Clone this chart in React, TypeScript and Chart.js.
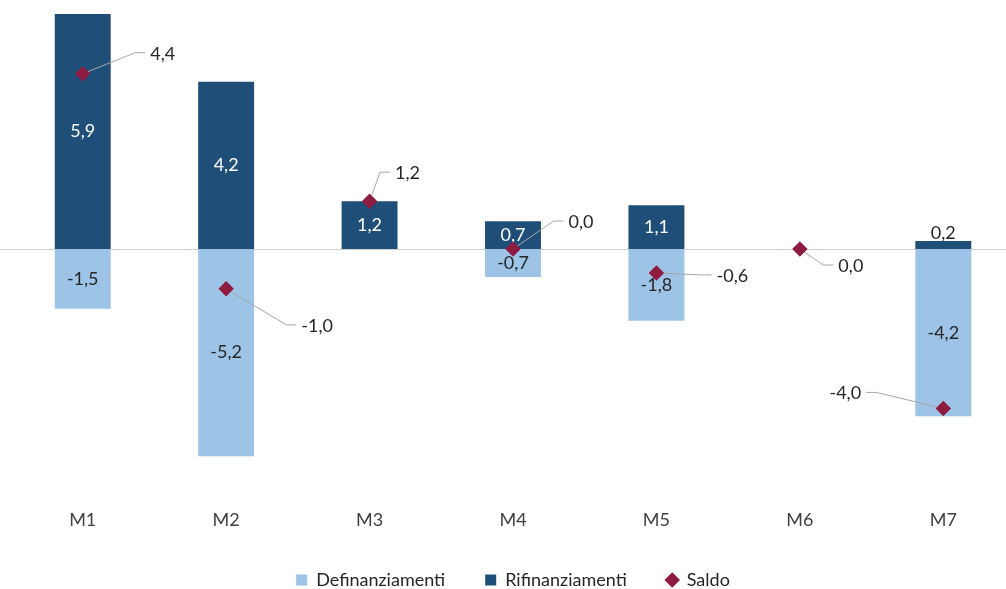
import { useEffect, useRef } from "react";
import { Chart, registerables } from "chart.js";

Chart.register(...registerables);

const categories = ["M1", "M2", "M3", "M4", "M5", "M6", "M7"];
const definanziamenti = [-1.5, -5.2, 0, -0.7, -1.8, 0, -4.2];
const rifinanziamenti = [5.9, 4.2, 1.2, 0.7, 1.1, 0, 0.2];
const saldo = [4.4, -1.0, 1.2, 0.0, -0.6, 0.0, -4.0];
const seriesNames = ["Definanziamenti", "Rifinanziamenti", "Saldo"];

const LIGHT = "#9DC3E6";
const DARK = "#1F4E79";
const SALDO_COLOR = "#8E1B40";
const FONT = "Lato, 'Open Sans', sans-serif";
const TEXT = "#262626";

// callout text offsets (px) from each Saldo marker
const CALLOUT_OFFSETS: [number, number][] = [
  [80, -20],
  [91, 37],
  [38, -28],
  [68, -27],
  [76, 3],
  [51, 17],
  [-98, -15],
];

const fmt = (v: number) => v.toFixed(1).replace(".", ",");

const labelsPlugin = {
  id: "valueLabels",
  beforeDatasetsDraw(chart: any) {
    const { ctx } = chart;
    const y0 = Math.round(chart.scales.y.getPixelForValue(0)) + 0.5;
    ctx.save();
    ctx.strokeStyle = "#D0D0D0";
    ctx.lineWidth = 1;
    ctx.beginPath();
    ctx.moveTo(0, y0);
    ctx.lineTo(chart.width, y0);
    ctx.stroke();
    ctx.restore();
  },
  afterDatasetsDraw(chart: any) {
    const { ctx } = chart;
    ctx.save();
    ctx.font = `18px ${FONT}`;
    ctx.textAlign = "center";
    ctx.textBaseline = "middle";
    [0, 1].forEach((di) => {
      const meta = chart.getDatasetMeta(di);
      const data = chart.data.datasets[di].data as number[];
      meta.data.forEach((el: any, i: number) => {
        const v = data[i];
        if (!v) return;
        const top = Math.min(el.y, el.base);
        const bottom = Math.max(el.y, el.base);
        if (bottom - top < 20) {
          ctx.fillStyle = TEXT;
          ctx.fillText(fmt(v), el.x, top - 8);
        } else {
          ctx.fillStyle = di === 1 ? "#FFFFFF" : TEXT;
          ctx.fillText(fmt(v), el.x, (top + bottom) / 2);
        }
      });
    });
    const meta = chart.getDatasetMeta(2);
    const data = chart.data.datasets[2].data as number[];
    meta.data.forEach((pt: any, i: number) => {
      const [dx, dy] = CALLOUT_OFFSETS[i];
      const tx = pt.x + dx;
      const ty = pt.y + dy;
      const text = fmt(data[i]);
      const w = ctx.measureText(text).width;
      const right = dx > 0;
      const edge = right ? tx - w / 2 - 5 : tx + w / 2 + 5;
      const elbow = right ? edge - 10 : edge + 10;
      const ly = ty - 1;
      ctx.strokeStyle = "#A6A6A6";
      ctx.lineWidth = 1;
      ctx.beginPath();
      ctx.moveTo(pt.x, pt.y);
      ctx.lineTo(elbow, ly);
      ctx.lineTo(edge, ly);
      ctx.stroke();
      ctx.fillStyle = TEXT;
      ctx.fillText(text, tx, ty);
    });
    meta.data.forEach((pt: any) => pt.draw(ctx, chart.chartArea));
    ctx.restore();
  },
};

export default function App() {
  const ref = useRef<HTMLCanvasElement>(null);
  useEffect(() => {
    if (!ref.current) return;
    const colors = [LIGHT, DARK, SALDO_COLOR];
    const chart = new Chart(ref.current, {
      type: "bar",
      data: {
        labels: categories,
        datasets: [
          {
            type: "bar",
            label: seriesNames[0],
            data: definanziamenti,
            backgroundColor: LIGHT,
            borderWidth: 0,
            stack: "s",
            order: 1,
            barPercentage: 0.39,
            categoryPercentage: 1,
          },
          {
            type: "bar",
            label: seriesNames[1],
            data: rifinanziamenti,
            backgroundColor: DARK,
            borderWidth: 0,
            stack: "s",
            order: 1,
            barPercentage: 0.39,
            categoryPercentage: 1,
          },
          {
            type: "line",
            label: seriesNames[2],
            data: saldo,
            showLine: false,
            pointStyle: "rectRot",
            pointRadius: 7.5,
            pointBorderWidth: 0,
            pointBackgroundColor: SALDO_COLOR,
            pointBorderColor: SALDO_COLOR,
            backgroundColor: SALDO_COLOR,
            borderColor: SALDO_COLOR,
            stack: "saldo",
            order: 0,
          } as any,
        ],
      },
      options: {
        responsive: false,
        animation: false,
        devicePixelRatio: 1,
        layout: { autoPadding: false, padding: { top: 2, left: 11, right: 5, bottom: 1 } },
        scales: {
          x: {
            stacked: true,
            grid: { display: false, drawTicks: false },
            border: { display: false },
            ticks: { font: { family: FONT, size: 18 }, color: "#404040", padding: 1 },
            afterFit: (scale: any) => {
              scale.height = 23;
            },
          },
          y: {
            stacked: true,
            display: false,
            min: -6.5,
            max: 6.2,
          },
        },
        plugins: {
          tooltip: { enabled: false },
          legend: {
            position: "bottom",
            labels: {
              usePointStyle: true,
              boxWidth: 11,
              boxHeight: 11,
              padding: 40,
              color: TEXT,
              font: { family: FONT, size: 18 },
              generateLabels: () =>
                seriesNames.map((name, i) => ({
                  text: name,
                  fillStyle: colors[i],
                  strokeStyle: colors[i],
                  lineWidth: 0,
                  pointStyle: i === 2 ? "rectRot" : "rect",
                  datasetIndex: i,
                  hidden: false,
                  fontColor: TEXT,
                })),
            },
          },
        },
      },
      plugins: [labelsPlugin],
    });
    return () => chart.destroy();
  }, []);
  return (
    <div
      style={{
        position: "fixed",
        left: 0,
        top: 0,
        width: 1006,
        height: 589,
        overflow: "hidden",
        background: "#fff",
      }}
    >
      <canvas ref={ref} width={1020} height={600} style={{ display: "block", width: 1020, height: 600 }} />
    </div>
  );
}
